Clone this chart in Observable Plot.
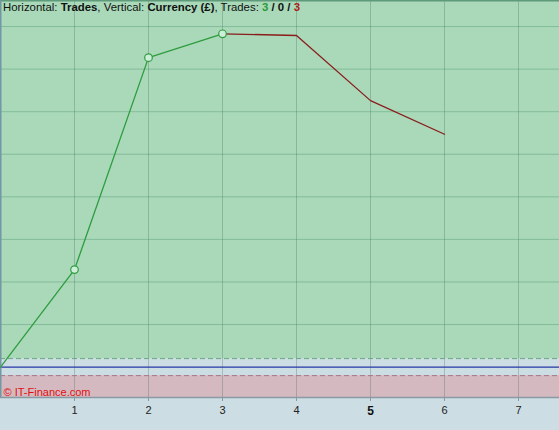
<!DOCTYPE html>
<html><head><meta charset="utf-8">
<script src="https://cdn.jsdelivr.net/npm/d3@7"></script>
<script src="https://cdn.jsdelivr.net/npm/@observablehq/plot@0.6"></script>
<style>
html,body{margin:0;padding:0;background:#cddde4;}
#wrap{position:relative;width:559px;height:430px;}
#title{position:absolute;left:3px;top:0px;font:11.4px "Liberation Sans",Arial,sans-serif;color:#111;white-space:nowrap;line-height:14px;}
#title b{font-weight:bold;}
</style>
</head><body>
<div id="wrap"><div id="title">Horizontal: <b>Trades</b>, Vertical: <b>Currency (£)</b>, Trades: <b style="color:#2a9a3a">3</b> <b>/ 0 /</b> <b style="color:#b01818">3</b></div></div>
<script>
const trades = [0, 1, 2, 3, 4, 5, 6];
const equity = [0, 229, 727, 783, 779, 626, 547];
const xTicks = [1, 2, 3, 4, 5, 6, 7];
const gridLevels = [100, 200, 300, 400, 500, 600, 700, 800];
const upperLimit = 20;
const lowerLimit = -20;
const yDomain = [-71.4, 861.2];
const xDomain = [0, 559 / 74];

const pts = trades.map((t, i) => ({t, v: equity[i]}));
const winPts = pts.slice(0, 4);
const lossPts = pts.slice(3);
const markPts = pts.slice(1, 4);
const bands = [
  {lo: upperLimit, hi: yDomain[1], fill: "#a9d9b9"},
  {lo: yDomain[0], hi: lowerLimit, fill: "#d4b9c1"}
];

const chart = Plot.plot({
  width: 559, height: 430,
  marginTop: 0, marginLeft: 0, marginRight: 0, marginBottom: 33,
  style: {background: "#cddde4", fontFamily: "'Liberation Sans', Arial, sans-serif", fontSize: "11px", overflow: "visible"},
  x: {domain: xDomain, axis: null},
  y: {domain: yDomain, axis: null},
  marks: [
    Plot.rect(bands, {y1: "lo", y2: "hi", fill: d => d.fill}),
    Plot.ruleY(gridLevels, {stroke: "#2f7a50", strokeOpacity: 0.3}),
    Plot.ruleX(xTicks, {stroke: "#3f6a55", strokeOpacity: 0.3}),
    Plot.ruleY([upperLimit], {stroke: "#6aa880", strokeDasharray: "5,3"}),
    Plot.ruleY([lowerLimit], {stroke: "#a87888", strokeDasharray: "5,3"}),
    Plot.ruleY([0], {stroke: "#2536a8", strokeWidth: 1.2}),
    Plot.ruleY([yDomain[1]], {stroke: "#5f9a7a", strokeWidth: 2}),
    Plot.ruleY([yDomain[0]], {stroke: "#8a9aa2", strokeWidth: 1.5}),
    Plot.ruleX([0], {stroke: "#7497a6", strokeWidth: 2}),
    Plot.line(winPts, {x: "t", y: "v", stroke: "#2e9c3e", strokeWidth: 1.3}),
    Plot.line(lossPts, {x: "t", y: "v", stroke: "#8a1c1c", strokeWidth: 1.3}),
    Plot.dot(markPts, {x: "t", y: "v", r: 3.8, fill: "#cdeed8", stroke: "#2e9c3e", strokeWidth: 1.2}),
    Plot.text(["© IT-Finance.com"], {frameAnchor: "bottom-left", dx: 3, dy: -2, fill: "#e01010", fontSize: 11, textAnchor: "start"}),
    Plot.axisX(xTicks, {label: null, tickSize: 4, tickPadding: 5, stroke: "#8a9aa2", fill: "#222", fontSize: 11, tickFormat: d => d === 5 ? "" : String(d)}),
    Plot.axisX([5], {label: null, tickSize: 0, tickPadding: 9, fill: "#111", fontSize: 12, fontWeight: "bold", tickFormat: d => String(d)})
  ]
});
document.getElementById("wrap").insertBefore(chart, document.getElementById("title"));
</script>
</body></html>
